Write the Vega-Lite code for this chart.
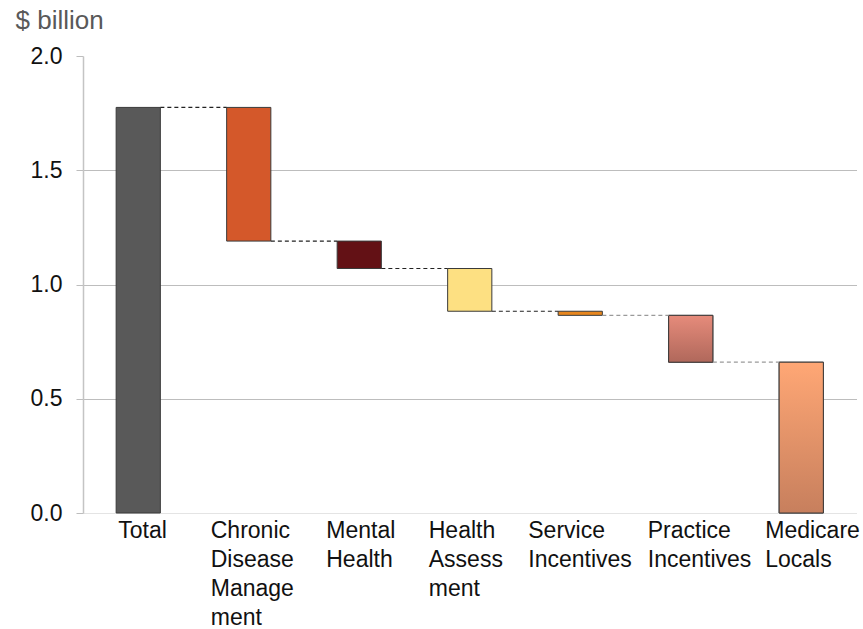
{
  "$schema": "https://vega.github.io/schema/vega-lite/v6.json",
  "width": 780,
  "height": 457,
  "autosize": {"type": "none"},
  "padding": {"left": 83, "top": 56, "right": 0, "bottom": 116},
  "background": "white",
  "config": {
    "view": {"stroke": null},
    "font": "Liberation Sans"
  },
  "data": {
    "values": [
      {"category": "Total", "start": 0, "end": 1.775, "next": "Chronic Disease Management"},
      {"category": "Chronic Disease Management", "start": 1.775, "end": 1.19, "next": "Mental Health"},
      {"category": "Mental Health", "start": 1.19, "end": 1.07, "next": "Health Assessment"},
      {"category": "Health Assessment", "start": 1.07, "end": 0.883, "next": "Service Incentives"},
      {"category": "Service Incentives", "start": 0.883, "end": 0.865, "next": "Practice Incentives"},
      {"category": "Practice Incentives", "start": 0.865, "end": 0.66, "next": "Medicare Locals"},
      {"category": "Medicare Locals", "start": 0.66, "end": 0, "next": null}
    ]
  },
  "encoding": {
    "x": {
      "field": "category",
      "type": "nominal",
      "sort": null,
      "scale": {"range": [0, 773.5], "paddingInner": 0.6, "paddingOuter": 0.3},
      "axis": {
        "title": null,
        "domain": false,
        "ticks": false,
        "labelAngle": 0,
        "labelFont": "Liberation Sans",
        "labelFontSize": 23,
        "labelColor": "#111111",
        "labelLineHeight": 29,
        "labelBaseline": "top",
        "labelPadding": 6,
        "labelAlign": "left",
        "labelOffset": {
          "condition": [
            {"test": "datum.value == 'Total'", "value": -20},
            {"test": "datum.value == 'Chronic Disease Management'", "value": -38},
            {"test": "datum.value == 'Mental Health'", "value": -33},
            {"test": "datum.value == 'Health Assessment'", "value": -41},
            {"test": "datum.value == 'Service Incentives'", "value": -52},
            {"test": "datum.value == 'Practice Incentives'", "value": -43}
          ],
          "value": -36
        },
        "labelExpr": "datum.value == 'Chronic Disease Management' ? ['Chronic', 'Disease', 'Manage', 'ment'] : datum.value == 'Mental Health' ? ['Mental', 'Health'] : datum.value == 'Health Assessment' ? ['Health', 'Assess', 'ment'] : datum.value == 'Service Incentives' ? ['Service', 'Incentives'] : datum.value == 'Practice Incentives' ? ['Practice', 'Incentives'] : datum.value == 'Medicare Locals' ? ['Medicare', 'Locals'] : datum.value"
      }
    }
  },
  "layer": [
    {
      "mark": {"type": "bar", "stroke": "#3a3a3a", "strokeWidth": 1},
      "encoding": {
        "y": {
          "field": "start",
          "type": "quantitative",
          "scale": {"domain": [0, 2], "nice": false},
          "axis": {
            "values": [0, 0.5, 1, 1.5, 2],
            "format": ".1f",
            "title": "$ billion",
            "titleAngle": 0,
            "titleAlign": "left",
            "titleBaseline": "alphabetic",
            "titleX": -68,
            "titleY": -28,
            "titleFont": "Liberation Sans",
            "titleFontSize": 26,
            "titleFontWeight": "normal",
            "titleColor": "#595959",
            "labelFont": "Liberation Sans",
            "labelFontSize": 23,
            "labelColor": "#111111",
            "labelPadding": 14,
            "domainColor": "#c4c4c4",
            "domainWidth": 1.5,
            "tickColor": "#bdbdbd",
            "tickSize": 7,
            "grid": true,
            "gridColor": {
              "condition": [
                {"test": "datum.value == 2", "value": "transparent"},
                {"test": "datum.value == 0", "value": "#e4e4e4"}
              ],
              "value": "#bdbdbd"
            },
            "gridWidth": 1.2
          }
        },
        "y2": {"field": "end"},
        "color": {
          "field": "category",
          "type": "nominal",
          "legend": null,
          "scale": {
            "domain": ["Total", "Chronic Disease Management", "Mental Health", "Health Assessment", "Service Incentives", "Practice Incentives", "Medicare Locals"],
            "range": ["#595959", "#d4582a", "#631115", "#fde082", "#e7861e", "#cc7869", "#e6936a"]
          }
        }
      }
    },
    {
      "transform": [{"filter": "datum.category == 'Practice Incentives'"}],
      "mark": {
        "type": "bar",
        "stroke": "#3a3a3a",
        "strokeWidth": 1,
        "color": {
          "gradient": "linear",
          "x1": 0, "y1": 0, "x2": 0, "y2": 1,
          "stops": [
            {"offset": 0, "color": "#e68b7b"},
            {"offset": 1, "color": "#b0685b"}
          ]
        }
      },
      "encoding": {
        "y": {"field": "start", "type": "quantitative"},
        "y2": {"field": "end"}
      }
    },
    {
      "transform": [{"filter": "datum.category == 'Medicare Locals'"}],
      "mark": {
        "type": "bar",
        "stroke": "#3a3a3a",
        "strokeWidth": 1,
        "color": {
          "gradient": "linear",
          "x1": 0, "y1": 0, "x2": 0, "y2": 1,
          "stops": [
            {"offset": 0, "color": "#ffa775"},
            {"offset": 1, "color": "#c77f5d"}
          ]
        }
      },
      "encoding": {
        "y": {"field": "start", "type": "quantitative"},
        "y2": {"field": "end"}
      }
    },
    {
      "transform": [{"filter": "datum.next != null"}],
      "mark": {"type": "rule", "strokeDash": [4, 3], "strokeWidth": 1.2},
      "encoding": {
        "x": {"field": "category", "type": "nominal", "sort": null, "bandPosition": 1},
        "x2": {"field": "next", "bandPosition": 0},
        "y": {"field": "end", "type": "quantitative"},
        "color": {
          "condition": {"test": "datum.end > 0.87", "value": "#222222"},
          "value": "#9a9a9a"
        }
      }
    }
  ]
}
